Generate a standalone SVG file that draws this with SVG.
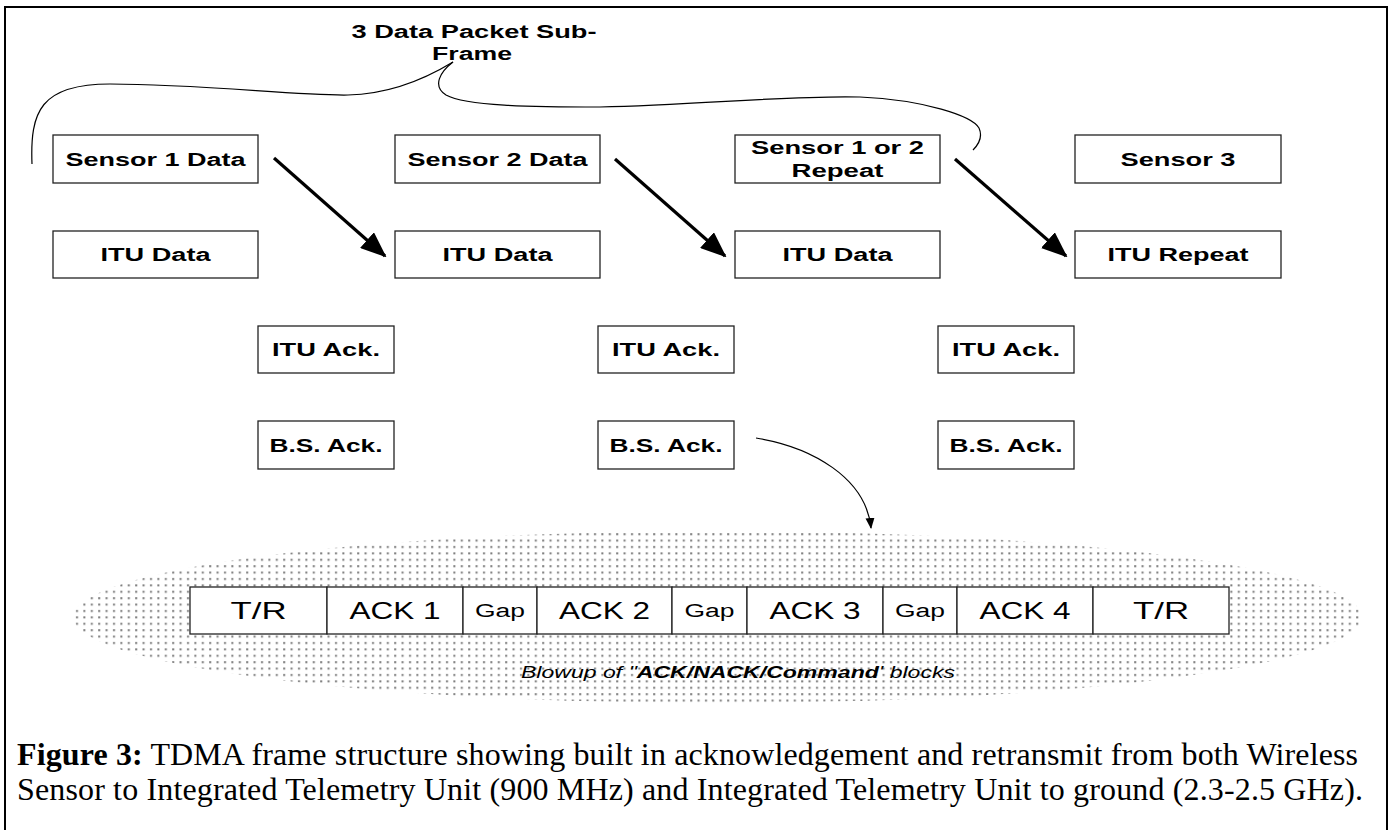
<svg xmlns="http://www.w3.org/2000/svg" width="1393" height="830" viewBox="0 0 1393 830">
<style>
.box{fill:#fff;stroke:#222;stroke-width:1.3}
.lbl{font-family:"Liberation Sans",Arial,sans-serif;font-weight:bold;font-size:18px;text-anchor:middle;fill:#000}
.blk{font-family:"Liberation Sans",Arial,sans-serif;font-size:24px;text-anchor:middle;fill:#000}
.gap{font-size:18px}
.cap{font-family:"Liberation Serif","Times New Roman",serif;font-size:32px;fill:#000}
.thin{fill:none;stroke:#000;stroke-width:1.2}
.thick{fill:none;stroke:#000;stroke-width:3.2}
</style>
<defs>
<pattern id="dots" x="0" y="0" width="7.4" height="6.4" patternUnits="userSpaceOnUse">
<rect x="2" y="2" width="2" height="2" fill="#7a7a7a"/>
</pattern>
<marker id="big" viewBox="0 0 26 21" refX="24" refY="10.5" markerWidth="26" markerHeight="21" markerUnits="userSpaceOnUse" orient="auto">
<path d="M0,0 L26,10.5 L0,21 z" fill="#000"/>
</marker>
<marker id="small" viewBox="0 0 11 10" refX="10" refY="5" markerWidth="11" markerHeight="10" markerUnits="userSpaceOnUse" orient="auto">
<path d="M0,0.5 L11,5 L0,9.5 z" fill="#000"/>
</marker>
</defs>
<rect x="0" y="0" width="1393" height="830" fill="#fff"/>
<rect x="5" y="7" width="1382" height="830" fill="none" stroke="#000" stroke-width="2"/>

<g id="title">
<text class="lbl" x="474" y="38" textLength="245" lengthAdjust="spacingAndGlyphs">3 Data Packet Sub-</text>
<text class="lbl" x="472" y="60" textLength="80" lengthAdjust="spacingAndGlyphs">Frame</text>
</g>

<g id="blowup-area">
<ellipse cx="717.5" cy="617" rx="644.5" ry="86" fill="url(#dots)"/>
</g>

<g id="connectors">
<path class="thin" d="M32,164 C30,112 40,84 110,84 C200,84 300,96 348,95 C392,94 430,76 453,62"/>
<path class="thin" d="M453,62 C440,72 432,86 446,95 C466,106 530,107 600,107 C700,105 790,95 860,97 C925,100 972,116 979,128 C983,137 978,145 973,150"/>
<line class="thick" x1="274" y1="158" x2="385" y2="256" marker-end="url(#big)"/>
<line class="thick" x1="615" y1="159" x2="725" y2="256" marker-end="url(#big)"/>
<line class="thick" x1="955" y1="159" x2="1066" y2="256" marker-end="url(#big)"/>
<path class="thin" d="M756,438 C812,447 866,478 871,528" marker-end="url(#small)"/>
</g>

<g id="sensor1"><rect class="box" x="53" y="135" width="205" height="48"/><text class="lbl" x="155.5" y="165.5" textLength="180" lengthAdjust="spacingAndGlyphs">Sensor 1 Data</text></g>
<g id="sensor2"><rect class="box" x="395" y="135" width="205" height="48"/><text class="lbl" x="497.5" y="165.5" textLength="180" lengthAdjust="spacingAndGlyphs">Sensor 2 Data</text></g>
<g id="sensorRepeat"><rect class="box" x="735" y="135" width="205" height="48"/><text class="lbl" x="837.5" y="154" textLength="173" lengthAdjust="spacingAndGlyphs">Sensor 1 or 2</text><text class="lbl" x="837.5" y="177" textLength="92" lengthAdjust="spacingAndGlyphs">Repeat</text></g>
<g id="sensor3"><rect class="box" x="1075" y="135" width="206" height="48"/><text class="lbl" x="1178" y="165.5" textLength="115" lengthAdjust="spacingAndGlyphs">Sensor 3</text></g>

<g id="itu1"><rect class="box" x="53" y="231" width="205" height="47"/><text class="lbl" x="155.5" y="261" textLength="110" lengthAdjust="spacingAndGlyphs">ITU Data</text></g>
<g id="itu2"><rect class="box" x="395" y="231" width="205" height="47"/><text class="lbl" x="497.5" y="261" textLength="110" lengthAdjust="spacingAndGlyphs">ITU Data</text></g>
<g id="itu3"><rect class="box" x="735" y="231" width="205" height="47"/><text class="lbl" x="837.5" y="261" textLength="110" lengthAdjust="spacingAndGlyphs">ITU Data</text></g>
<g id="ituRepeat"><rect class="box" x="1075" y="231" width="206" height="47"/><text class="lbl" x="1178" y="261" textLength="141" lengthAdjust="spacingAndGlyphs">ITU Repeat</text></g>

<g id="ituAck1"><rect class="box" x="258" y="326" width="136" height="47"/><text class="lbl" x="326" y="356" textLength="108" lengthAdjust="spacingAndGlyphs">ITU Ack.</text></g>
<g id="ituAck2"><rect class="box" x="598" y="326" width="136" height="47"/><text class="lbl" x="666" y="356" textLength="108" lengthAdjust="spacingAndGlyphs">ITU Ack.</text></g>
<g id="ituAck3"><rect class="box" x="938" y="326" width="136" height="47"/><text class="lbl" x="1006" y="356" textLength="108" lengthAdjust="spacingAndGlyphs">ITU Ack.</text></g>

<g id="bsAck1"><rect class="box" x="258" y="421" width="136" height="48"/><text class="lbl" x="326" y="451.5" textLength="113" lengthAdjust="spacingAndGlyphs">B.S. Ack.</text></g>
<g id="bsAck2"><rect class="box" x="598" y="421" width="136" height="48"/><text class="lbl" x="666" y="451.5" textLength="113" lengthAdjust="spacingAndGlyphs">B.S. Ack.</text></g>
<g id="bsAck3"><rect class="box" x="938" y="421" width="136" height="48"/><text class="lbl" x="1006" y="451.5" textLength="113" lengthAdjust="spacingAndGlyphs">B.S. Ack.</text></g>

<g id="frame-blocks">
<rect class="box" x="190" y="587" width="137" height="47"/><text class="blk" x="258.5" y="619" textLength="56" lengthAdjust="spacingAndGlyphs">T/R</text>
<rect class="box" x="327" y="587" width="136" height="47"/><text class="blk" x="395" y="619" textLength="91" lengthAdjust="spacingAndGlyphs">ACK 1</text>
<rect class="box" x="463" y="587" width="74" height="47"/><text class="blk gap" x="500" y="617" textLength="50" lengthAdjust="spacingAndGlyphs">Gap</text>
<rect class="box" x="537" y="587" width="135" height="47"/><text class="blk" x="604.5" y="619" textLength="91" lengthAdjust="spacingAndGlyphs">ACK 2</text>
<rect class="box" x="672" y="587" width="75" height="47"/><text class="blk gap" x="709.5" y="617" textLength="50" lengthAdjust="spacingAndGlyphs">Gap</text>
<rect class="box" x="747" y="587" width="136" height="47"/><text class="blk" x="815" y="619" textLength="91" lengthAdjust="spacingAndGlyphs">ACK 3</text>
<rect class="box" x="883" y="587" width="74" height="47"/><text class="blk gap" x="920" y="617" textLength="50" lengthAdjust="spacingAndGlyphs">Gap</text>
<rect class="box" x="957" y="587" width="136" height="47"/><text class="blk" x="1025" y="619" textLength="91" lengthAdjust="spacingAndGlyphs">ACK 4</text>
<rect class="box" x="1093" y="587" width="136" height="47"/><text class="blk" x="1161" y="619" textLength="56" lengthAdjust="spacingAndGlyphs">T/R</text>
</g>

<g id="blowup-label">
<text x="521" y="678" font-family="'Liberation Sans',Arial,sans-serif" font-size="16" font-style="italic" textLength="434" lengthAdjust="spacingAndGlyphs">Blowup of "<tspan font-weight="bold">ACK/NACK/Command</tspan>' blocks</text>
</g>

<g id="caption">
<text class="cap" x="17" y="765" textLength="1341" lengthAdjust="spacing"><tspan font-weight="bold">Figure 3:</tspan> TDMA frame structure showing built in acknowledgement and retransmit from both Wireless</text>
<text class="cap" x="17" y="800" textLength="1346" lengthAdjust="spacing">Sensor to Integrated Telemetry Unit (900 MHz) and Integrated Telemetry Unit to ground (2.3-2.5 GHz).</text>
</g>
</svg>
